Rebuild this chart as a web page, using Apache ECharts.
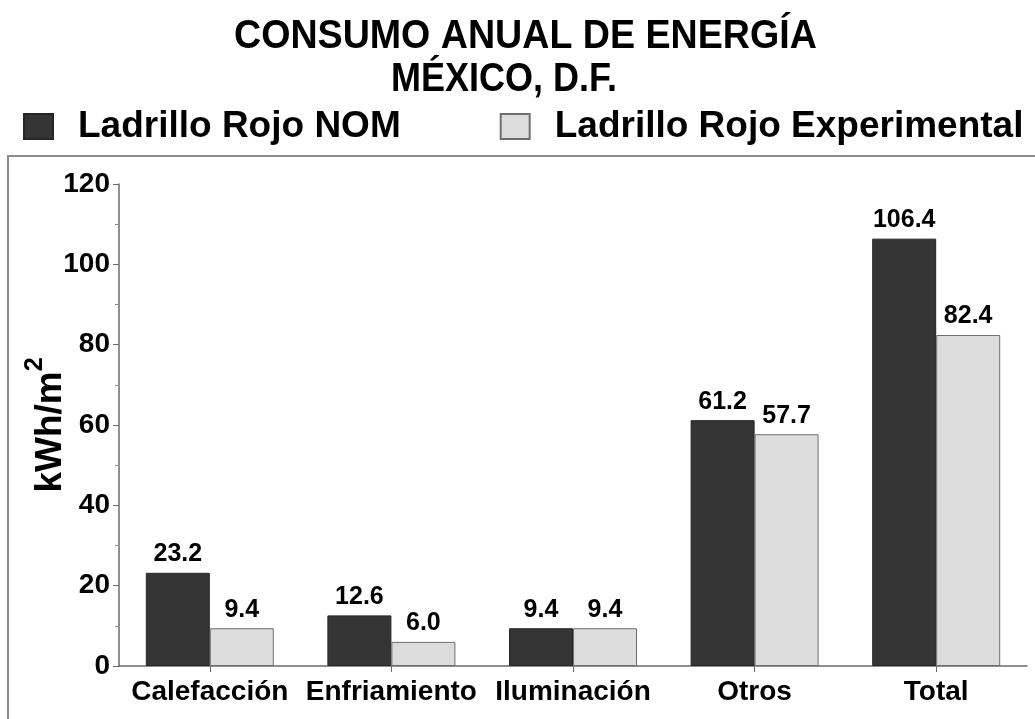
<!DOCTYPE html>
<html>
<head>
<meta charset="utf-8">
<script src="https://cdn.jsdelivr.net/npm/echarts@6/dist/echarts.min.js"></script>
<style>
  html, body { margin: 0; padding: 0; background: #ffffff; }
  #chart { width: 1035px; height: 719px; }
</style>
</head>
<body>
<div id="chart"></div>
<script>
// Annual energy consumption per square metre, Mexico City
const categories = ['Calefacción', 'Enfriamiento', 'Iluminación', 'Otros', 'Total'];
const seriesNames = ['Ladrillo Rojo NOM', 'Ladrillo Rojo Experimental'];
const nomValues = [23.2, 12.6, 9.4, 61.2, 106.4];
const experimentalValues = [9.4, 6.0, 9.4, 57.7, 82.4];
const yTicks = [0, 20, 40, 60, 80, 100, 120];
const titleLines = ['CONSUMO ANUAL DE ENERGÍA', 'MÉXICO, D.F.'];

const BOLD = 'Liberation Sans, Arial, Helvetica, sans-serif';

const chart = echarts.init(document.getElementById('chart'), null, { renderer: 'canvas' });

// slightly condensed bold heading line
function headingLine(text, x, y, sx) {
  return {
    type: 'text', silent: true,
    x: x, y: y, scaleX: sx, scaleY: 1,
    style: {
      text: text, fill: '#000',
      font: 'bold 40px ' + BOLD,
      align: 'left', verticalAlign: 'middle'
    }
  };
}

chart.setOption({
  backgroundColor: '#ffffff',
  animation: false,
  legend: {
    data: seriesNames,
    left: 23, top: 108, padding: 0,
    itemWidth: 29, itemHeight: 25, itemGap: 99,
    icon: 'rect',
    textStyle: {
      fontFamily: BOLD, fontWeight: 'bold', fontSize: 37, color: '#000',
      padding: [0, 0, 0, 20]
    }
  },
  graphic: [
    headingLine(titleLines[0], 234, 36.5, 0.94),
    headingLine(titleLines[1], 391, 79.5, 0.9),
    {
      type: 'rect', z: -1, silent: true,
      shape: { x: 8, y: 156, width: 1100, height: 700 },
      style: { fill: 'none', stroke: '#8c8c8c', lineWidth: 2 }
    }
  ],
  grid: { left: 119, right: 8, top: 184, bottom: 53, containLabel: false },
  xAxis: {
    type: 'category',
    data: categories,
    axisLine: { lineStyle: { color: '#6a6a6a', width: 1.5 } },
    axisTick: { show: true, alignWithLabel: true, length: 6, lineStyle: { color: '#6a6a6a' } },
    axisLabel: { interval: 0, fontFamily: BOLD, fontWeight: 'bold', fontSize: 28, color: '#000', margin: 12 }
  },
  yAxis: {
    type: 'value',
    min: yTicks[0], max: yTicks[yTicks.length - 1], interval: 20,
    name: '{m|kWh/m}{s|2}',
    nameLocation: 'middle',
    nameRotate: 90,
    nameGap: 50,
    nameMoveOverlap: false,
    nameTextStyle: {
      rich: {
        m: { fontFamily: BOLD, fontWeight: 'bold', fontSize: 37, color: '#000', lineHeight: 46, verticalAlign: 'bottom' },
        s: { fontFamily: BOLD, fontWeight: 'bold', fontSize: 25, color: '#000', lineHeight: 26, verticalAlign: 'top' }
      }
    },
    axisLine: { show: true, lineStyle: { color: '#6a6a6a', width: 1.5 } },
    axisTick: { show: true, length: 6, lineStyle: { color: '#6a6a6a' } },
    minorTick: { show: true, splitNumber: 2, length: 4, lineStyle: { color: '#8a8a8a' } },
    splitLine: { show: false },
    axisLabel: { fontFamily: BOLD, fontWeight: 'bold', fontSize: 28, color: '#000', margin: 9 }
  },
  series: [
    {
      name: seriesNames[0],
      type: 'bar',
      data: nomValues,
      barWidth: 64,
      barGap: '0%',
      itemStyle: { color: '#353535', borderColor: '#262626', borderWidth: 1 },
      label: {
        show: true, position: 'top', distance: 6,
        fontFamily: BOLD, fontWeight: 'bold', fontSize: 25, color: '#000',
        formatter: p => p.value.toFixed(1)
      }
    },
    {
      name: seriesNames[1],
      type: 'bar',
      data: experimentalValues,
      barWidth: 64,
      barGap: '0%',
      itemStyle: { color: '#dcdcdc', borderColor: '#6e6e6e', borderWidth: 1 },
      label: {
        show: true, position: 'top', distance: 6,
        fontFamily: BOLD, fontWeight: 'bold', fontSize: 25, color: '#000',
        formatter: p => p.value.toFixed(1)
      }
    }
  ]
});
</script>
</body>
</html>
